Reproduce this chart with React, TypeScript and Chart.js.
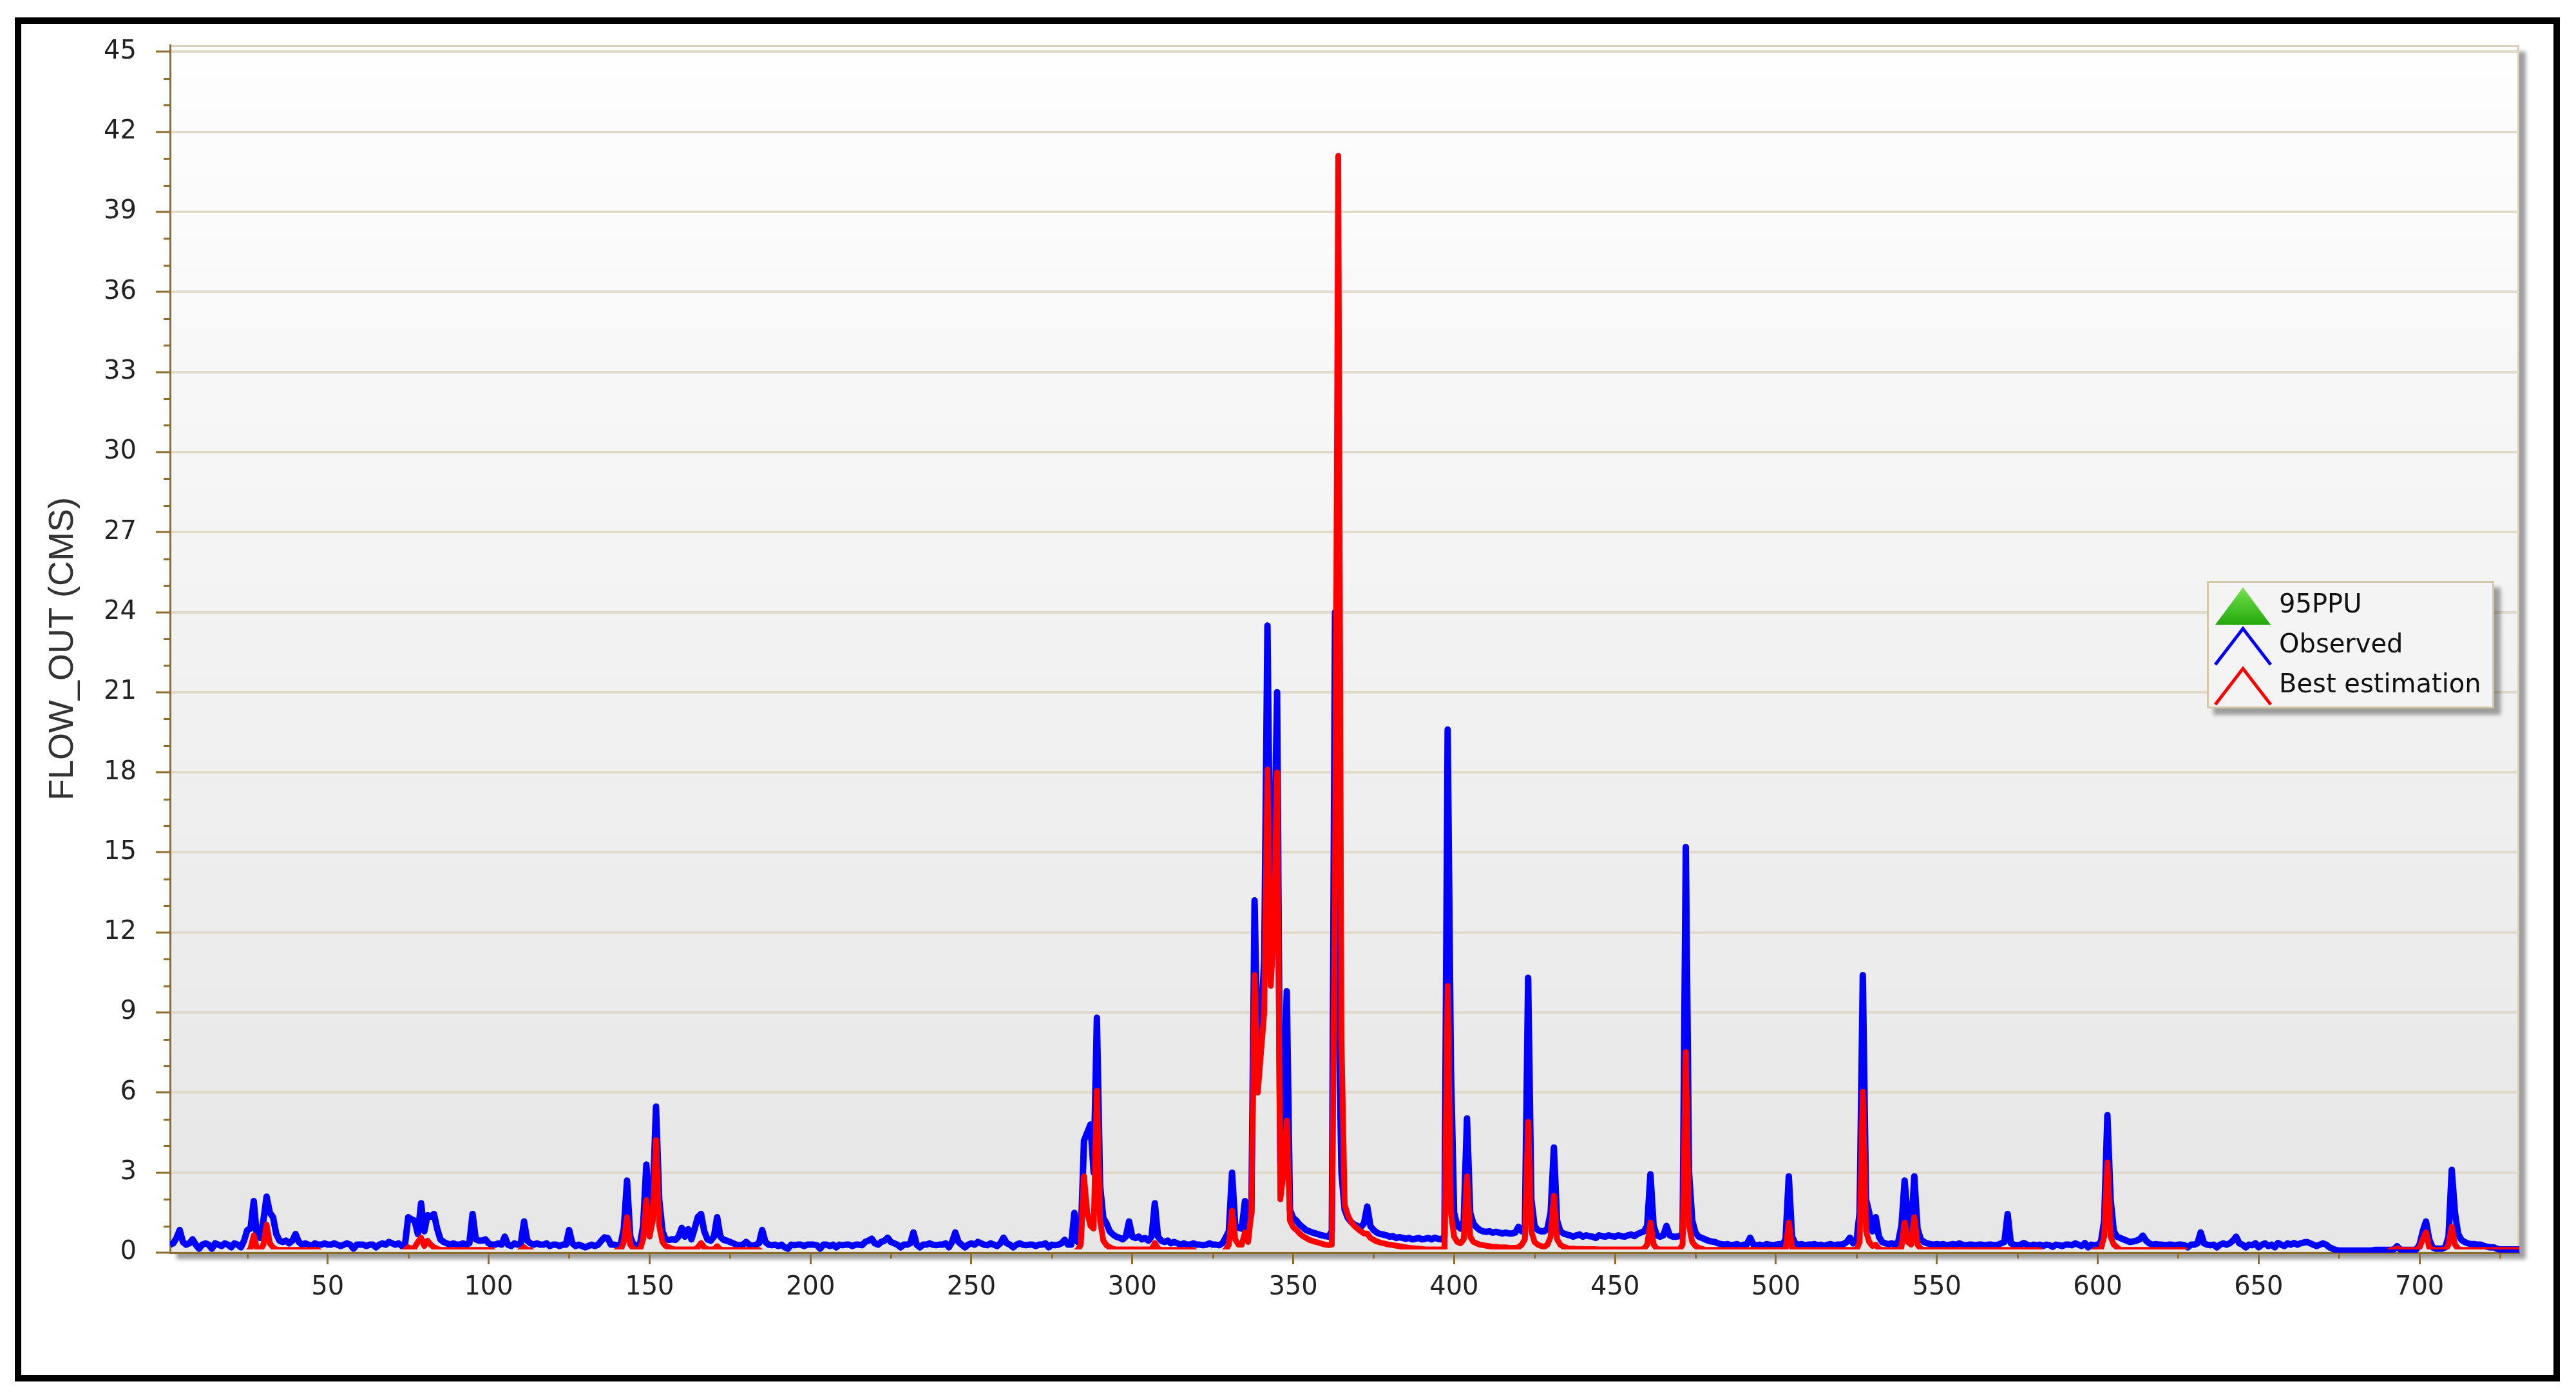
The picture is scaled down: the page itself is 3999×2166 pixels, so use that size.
import React, { useEffect, useRef } from "react";
import { Chart, registerables } from "chart.js";

Chart.register(...registerables);

// ---------- data ----------
const SERIES_LABELS = ["95PPU", "Observed", "Best estimation"];

const X_TICKS = [50, 100, 150, 200, 250, 300, 350, 400, 450, 500, 550, 600, 650, 700];
const X_MINOR_TICKS = [25, 75, 125, 175, 225, 275, 325, 375, 425, 475, 525, 575, 625, 675, 725];
const Y_TICKS = [0, 3, 6, 9, 12, 15, 18, 21, 24, 27, 30, 33, 36, 39, 42, 45];
const Y_MINOR_TICKS = [1, 2, 4, 5, 7, 8, 10, 11, 13, 14, 16, 17, 19, 20, 22, 23, 25, 26, 28, 29, 31, 32, 34, 35, 37, 38, 40, 41, 43, 44];

const FIRST_DAY = 1;

// Observed daily flow (CMS), day 1 .. 731
const OBSERVED = [
  0.3, 0.35, 0.55, 0.85, 0.4, 0.3, 0.35, 0.5, 0.3, 0.15,
  0.3, 0.35, 0.3, 0.15, 0.35, 0.3, 0.25, 0.35, 0.3, 0.2,
  0.35, 0.3, 0.2, 0.45, 0.85, 0.9, 1.93, 0.6, 0.55, 1.2,
  2.1, 1.5, 1.33, 0.7, 0.45, 0.4, 0.45, 0.35, 0.45, 0.7,
  0.4, 0.3, 0.35, 0.3, 0.25, 0.35, 0.3, 0.3, 0.35, 0.3,
  0.3, 0.35, 0.3, 0.25, 0.3, 0.35, 0.3, 0.15, 0.3, 0.3,
  0.3, 0.25, 0.3, 0.3, 0.2, 0.3, 0.35, 0.3, 0.4, 0.35,
  0.3, 0.35, 0.25, 0.3, 1.33, 1.25, 1.2, 0.7, 1.85, 0.8,
  1.4, 1.35, 1.45, 0.9, 0.5, 0.4, 0.35, 0.3, 0.35, 0.3,
  0.3, 0.35, 0.3, 0.35, 1.45, 0.5, 0.45, 0.45, 0.5, 0.35,
  0.3, 0.3, 0.35, 0.3, 0.6, 0.3, 0.25, 0.35, 0.3, 0.35,
  1.17, 0.45, 0.35, 0.3, 0.35, 0.3, 0.3, 0.35, 0.25, 0.3,
  0.3, 0.25, 0.3, 0.3, 0.85, 0.35, 0.25, 0.3, 0.25, 0.2,
  0.25, 0.3, 0.25, 0.3, 0.45, 0.57, 0.55, 0.3, 0.3, 0.28,
  0.28, 0.9, 2.7, 0.6, 0.3, 0.28, 0.3, 1.0, 3.3, 1.5,
  2.0, 5.47, 2.0, 0.8, 0.5, 0.48, 0.5, 0.48, 0.6, 0.93,
  0.6, 0.88, 0.5, 0.9, 1.33, 1.45, 0.8, 0.5, 0.45, 0.6,
  1.33, 0.6, 0.48, 0.45, 0.4, 0.35, 0.3, 0.28, 0.3, 0.4,
  0.3, 0.25, 0.3, 0.35, 0.85, 0.4, 0.3, 0.28, 0.3, 0.25,
  0.3, 0.2, 0.15, 0.3, 0.28, 0.3, 0.3, 0.25, 0.3, 0.3,
  0.3, 0.28, 0.15, 0.3, 0.3, 0.25, 0.3, 0.2, 0.3, 0.28,
  0.3, 0.3, 0.25, 0.3, 0.3, 0.28, 0.4, 0.45, 0.52, 0.35,
  0.3, 0.4, 0.45, 0.56, 0.4, 0.35, 0.3, 0.2, 0.3, 0.3,
  0.35, 0.76, 0.3, 0.2, 0.3, 0.3, 0.35, 0.3, 0.28, 0.3,
  0.3, 0.35, 0.2, 0.4, 0.76, 0.4, 0.3, 0.2, 0.3, 0.35,
  0.3, 0.4, 0.35, 0.3, 0.28, 0.35, 0.3, 0.25, 0.35, 0.56,
  0.35, 0.3, 0.2, 0.3, 0.35, 0.3, 0.28, 0.3, 0.3, 0.25,
  0.3, 0.3, 0.35, 0.2, 0.3, 0.28, 0.3, 0.35, 0.48, 0.3,
  0.3, 1.49, 0.4, 0.6, 4.2, 4.5, 4.8, 3.0, 8.8, 2.5,
  1.3, 1.09, 0.8, 0.68, 0.6, 0.56, 0.5, 0.6, 1.17, 0.6,
  0.55, 0.6, 0.5, 0.55, 0.45, 0.6, 1.85, 0.6, 0.45, 0.4,
  0.45, 0.35, 0.4, 0.35, 0.3, 0.35, 0.3, 0.3, 0.35, 0.3,
  0.3, 0.28, 0.3, 0.35, 0.3, 0.3, 0.28, 0.35, 0.56, 0.8,
  3.0, 1.0, 0.93, 0.9, 1.93, 0.8, 1.5, 13.2, 7.0, 8.5,
  11.0, 23.5, 12.0, 14.0, 21.0, 3.4, 5.0, 9.8, 1.6, 1.3,
  1.2, 1.05, 0.95, 0.85, 0.8, 0.75, 0.72, 0.68, 0.65, 0.62,
  0.6, 0.8, 24.0, 10.0, 3.0, 1.6, 1.3, 1.15, 1.05, 1.0,
  0.95, 1.1, 1.73, 1.0, 0.85, 0.75, 0.7, 0.68, 0.65, 0.6,
  0.62, 0.55, 0.58, 0.55, 0.52, 0.55, 0.5, 0.52, 0.55, 0.5,
  0.52, 0.55, 0.5, 0.56, 0.52, 0.5, 0.6, 19.6, 7.0, 1.5,
  1.0, 0.9, 1.2, 5.03, 1.5, 1.09, 0.95, 0.85, 0.8, 0.78,
  0.8, 0.75, 0.78, 0.75, 0.72, 0.75, 0.72, 0.72, 0.75, 0.97,
  0.8, 1.0, 10.3, 2.0, 1.0, 0.85, 0.8, 0.8, 0.9, 1.5,
  3.94, 1.2, 0.8, 0.72, 0.68, 0.65, 0.6, 0.65, 0.68, 0.6,
  0.65, 0.62, 0.6, 0.55, 0.65, 0.62, 0.6, 0.65, 0.62, 0.6,
  0.65, 0.62, 0.6, 0.65, 0.68, 0.62, 0.7, 0.75, 0.8, 1.0,
  2.94, 1.0, 0.65, 0.6, 0.65, 1.0, 0.65, 0.6, 0.6, 0.62,
  0.7, 15.2, 3.0, 1.2, 0.75, 0.6, 0.55, 0.5, 0.45, 0.42,
  0.4, 0.35, 0.32, 0.3, 0.32, 0.28, 0.3, 0.32, 0.25, 0.3,
  0.32, 0.56, 0.3, 0.28, 0.3, 0.25, 0.32, 0.3, 0.28, 0.3,
  0.32, 0.3, 0.5, 2.86, 0.6, 0.35, 0.3, 0.32, 0.28, 0.3,
  0.3, 0.32, 0.28, 0.3, 0.25, 0.3, 0.32, 0.28, 0.3, 0.3,
  0.32, 0.4, 0.56, 0.35, 0.4, 1.5, 10.4, 2.0, 1.49, 0.8,
  1.33, 0.6, 0.4, 0.35, 0.32, 0.35, 0.3, 0.4, 1.0, 2.7,
  1.2, 0.8, 2.86, 0.9, 0.5, 0.4, 0.35, 0.32, 0.3, 0.32,
  0.3, 0.32, 0.28, 0.3, 0.32, 0.3, 0.35, 0.3, 0.28, 0.3,
  0.3, 0.28, 0.3, 0.3, 0.28, 0.3, 0.3, 0.28, 0.3, 0.35,
  0.4, 1.45, 0.35, 0.3, 0.28, 0.3, 0.36, 0.3, 0.25, 0.3,
  0.28, 0.3, 0.25, 0.3, 0.28, 0.22, 0.3, 0.28, 0.25, 0.3,
  0.3, 0.28, 0.35, 0.3, 0.25, 0.36, 0.2, 0.3, 0.28, 0.3,
  0.4, 1.2, 5.15, 2.0, 0.8, 0.6, 0.55, 0.5, 0.45, 0.4,
  0.42, 0.45, 0.5, 0.64, 0.45, 0.35, 0.3, 0.32, 0.3, 0.3,
  0.28, 0.3, 0.3, 0.28, 0.3, 0.3, 0.28, 0.2, 0.3, 0.3,
  0.35, 0.76, 0.35, 0.3, 0.28, 0.3, 0.2, 0.3, 0.35, 0.3,
  0.35, 0.45, 0.6, 0.35, 0.3, 0.2, 0.3, 0.28, 0.35, 0.2,
  0.3, 0.35, 0.25, 0.3, 0.2, 0.36, 0.3, 0.25, 0.35, 0.3,
  0.36, 0.3, 0.35, 0.38, 0.4, 0.35, 0.3, 0.25, 0.3, 0.35,
  0.3, 0.2, 0.15, 0.1, 0.08, 0.08, 0.08, 0.08, 0.08, 0.08,
  0.08, 0.08, 0.08, 0.08, 0.08, 0.1, 0.1, 0.1, 0.1, 0.1,
  0.1, 0.12, 0.24, 0.12, 0.1, 0.1, 0.1, 0.1, 0.12, 0.3,
  0.8, 1.17, 0.5, 0.2, 0.15, 0.15, 0.15, 0.2, 0.6, 3.1,
  1.5, 0.7, 0.48, 0.4, 0.35, 0.32, 0.32, 0.3, 0.3, 0.25,
  0.22, 0.2, 0.2, 0.15, 0.12, 0.12, 0.12, 0.12, 0.12, 0.12,
  0.12,
];

// Best estimation (simulated) daily flow (CMS), day 1 .. 731
const SIMULATED = [
  0, 0, 0, 0, 0, 0, 0, 0, 0, 0,
  0, 0, 0, 0, 0, 0, 0, 0, 0, 0,
  0, 0, 0, 0, 0, 0.15, 0.65, 0.15, 0.1, 0.3,
  1.05, 0.35, 0.2, 0.12, 0.1, 0.1, 0.1, 0.1, 0.1, 0.1,
  0.1, 0.1, 0.1, 0.1, 0.1, 0.1, 0.1, 0, 0, 0,
  0, 0, 0, 0, 0, 0, 0, 0, 0, 0,
  0, 0, 0, 0, 0, 0, 0, 0, 0, 0,
  0, 0, 0, 0.1, 0.2, 0.15, 0.2, 0.4, 0.56, 0.25,
  0.45, 0.3, 0.2, 0.15, 0.1, 0.1, 0.1, 0.1, 0.1, 0.1,
  0.1, 0.1, 0.1, 0.1, 0.1, 0.1, 0.1, 0.1, 0.1, 0.1,
  0.1, 0, 0, 0, 0, 0, 0, 0, 0, 0.1,
  0.2, 0.1, 0.1, 0, 0, 0, 0, 0, 0, 0,
  0, 0, 0, 0, 0, 0, 0, 0, 0, 0,
  0, 0, 0, 0, 0, 0, 0, 0, 0, 0.1,
  0.1, 0.4, 1.33, 0.3, 0.15, 0.1, 0.1, 0.5, 1.97, 0.6,
  1.2, 4.22, 1.0, 0.4, 0.25, 0.2, 0.15, 0.12, 0.12, 0.12,
  0.12, 0.12, 0.12, 0.12, 0.2, 0.36, 0.2, 0.12, 0.12, 0.12,
  0.24, 0.12, 0.1, 0.1, 0.1, 0.1, 0.1, 0.1, 0.1, 0.1,
  0.1, 0.1, 0.1, 0.1, 0, 0, 0, 0, 0, 0,
  0, 0, 0, 0, 0, 0, 0, 0, 0, 0,
  0, 0, 0, 0, 0, 0, 0, 0, 0, 0,
  0, 0, 0, 0, 0, 0, 0, 0, 0, 0,
  0, 0, 0, 0, 0, 0, 0, 0, 0, 0,
  0, 0, 0, 0, 0, 0, 0, 0, 0, 0,
  0, 0, 0, 0, 0, 0, 0, 0, 0, 0,
  0, 0, 0, 0, 0, 0, 0, 0, 0, 0,
  0, 0, 0, 0, 0, 0, 0, 0, 0, 0,
  0, 0, 0, 0, 0, 0, 0, 0, 0, 0,
  0, 0, 0.1, 0.3, 2.86, 1.5, 1.0, 0.9, 6.07, 1.2,
  0.45, 0.28, 0.2, 0.15, 0.12, 0.12, 0.12, 0.12, 0.12, 0.12,
  0.12, 0.12, 0.12, 0.12, 0.12, 0.12, 0.36, 0.15, 0.1, 0.1,
  0.1, 0.1, 0.1, 0.1, 0.1, 0.1, 0.1, 0.1, 0.1, 0,
  0, 0, 0, 0, 0, 0, 0, 0, 0.1, 0.3,
  1.57, 0.5, 0.3, 0.3, 0.76, 0.4, 1.5, 10.4, 6.0, 7.5,
  9.0, 18.1, 10.0, 12.0, 18.0, 2.0, 3.0, 4.95, 1.2, 0.95,
  0.85, 0.72, 0.62, 0.55, 0.48, 0.44, 0.4, 0.37, 0.33, 0.3,
  0.28, 0.3, 14.0, 41.1, 8.0, 1.8, 1.4, 1.15, 1.0, 0.9,
  0.8, 0.72, 0.72, 0.55, 0.48, 0.42, 0.38, 0.35, 0.32, 0.3,
  0.28, 0.26, 0.24, 0.22, 0.2, 0.18, 0.17, 0.16, 0.15, 0.14,
  0.12, 0.12, 0.12, 0.12, 0.12, 0.12, 0.12, 10.0, 1.5, 0.6,
  0.4, 0.35, 0.5, 2.86, 0.6, 0.4, 0.35, 0.3, 0.28, 0.26,
  0.24, 0.22, 0.22, 0.2, 0.2, 0.2, 0.18, 0.18, 0.18, 0.2,
  0.3, 0.5, 4.9, 0.8, 0.4, 0.3, 0.25, 0.22, 0.3, 0.6,
  2.13, 0.5, 0.3, 0.22, 0.18, 0.15, 0.15, 0.14, 0.14, 0.14,
  0.13, 0.13, 0.13, 0.13, 0.12, 0.12, 0.12, 0.12, 0.12, 0.12,
  0.12, 0.12, 0.12, 0.12, 0.12, 0.12, 0.12, 0.12, 0.15, 0.3,
  1.13, 0.3, 0.15, 0.12, 0.12, 0.12, 0.12, 0.12, 0.12, 0.12,
  0.3, 7.52, 1.0, 0.4, 0.25, 0.18, 0.15, 0.1, 0.1, 0.1,
  0.1, 0.1, 0.1, 0.1, 0.1, 0.1, 0.1, 0.1, 0.1, 0.1,
  0.1, 0.1, 0.1, 0.1, 0.1, 0.1, 0.1, 0.1, 0.1, 0.1,
  0.1, 0.1, 0.1, 1.13, 0.2, 0.1, 0.1, 0.1, 0.1, 0.1,
  0.1, 0.1, 0.1, 0.1, 0.1, 0.1, 0.1, 0.1, 0.1, 0.1,
  0.1, 0.1, 0.1, 0.1, 0.1, 0.4, 6.03, 0.8, 0.4, 0.25,
  0.3, 0.15, 0.1, 0.1, 0.1, 0.1, 0.1, 0.1, 0.2, 1.13,
  0.4, 0.3, 1.33, 0.3, 0.15, 0.1, 0.1, 0.1, 0.1, 0.1,
  0.1, 0.1, 0.1, 0.1, 0.1, 0.1, 0.1, 0.1, 0.1, 0.1,
  0.1, 0.1, 0.1, 0.1, 0.1, 0.1, 0.1, 0.1, 0.1, 0.1,
  0.1, 0.1, 0.1, 0.1, 0.1, 0.1, 0.1, 0.1, 0.1, 0.1,
  0.1, 0.1, 0, 0, 0, 0, 0, 0, 0, 0,
  0, 0, 0, 0, 0, 0, 0, 0, 0.1, 0.1,
  0.15, 0.6, 3.38, 0.6, 0.3, 0.2, 0.1, 0.1, 0.1, 0.1,
  0.1, 0.1, 0.1, 0.1, 0.1, 0.1, 0.1, 0.1, 0.1, 0.1,
  0.1, 0.1, 0.1, 0.1, 0.1, 0.1, 0.1, 0, 0, 0,
  0, 0, 0, 0, 0, 0, 0, 0, 0, 0,
  0, 0, 0, 0, 0, 0, 0, 0, 0, 0,
  0, 0, 0, 0, 0, 0, 0, 0, 0, 0,
  0, 0, 0, 0, 0, 0, 0, 0, 0, 0,
  0, 0, 0, 0, 0, 0, 0, 0, 0, 0,
  0, 0, 0, 0, 0, 0, 0, 0, 0, 0,
  0.1, 0.1, 0.16, 0.1, 0.1, 0.1, 0.1, 0.1, 0.1, 0.2,
  0.5, 0.76, 0.2, 0.1, 0.1, 0.1, 0.1, 0.1, 0.3, 0.97,
  0.3, 0.15, 0.1, 0.1, 0.1, 0.1, 0.1, 0.1, 0.1, 0.1,
  0.1, 0.1, 0.1, 0.1, 0.1, 0.1, 0.1, 0.1, 0.1, 0.1,
  0.1,
];

// 95PPU band is not drawn in this figure (legend entry only)
const PPU95: { x: number; y: number }[] = [];

// ---------- styling ----------
const W = 3999;
const H = 2166;
const AXIS_BROWN = "#8d6c2c";
const GRID_BEIGE = "#e1dacb";
const BLUE = "#0000ff";
const RED = "#ff0000";
const GREEN = "#33c21a";
const TICK_FONT = { family: '"DejaVu Sans", Verdana, sans-serif', size: 40 };

const toPoints = (arr: number[]) => arr.map((y, i) => ({ x: FIRST_DAY + i, y }));

const framePlugin = {
  id: "frameAndBackground",
  beforeDraw(chart: any) {
    const { ctx, chartArea: a, width, height } = chart;
    ctx.save();
    ctx.fillStyle = "#ffffff";
    ctx.fillRect(0, 0, width, height);
    // outer black frame
    ctx.strokeStyle = "#000000";
    ctx.lineWidth = 10;
    ctx.strokeRect(28, 32, width - 58, height - 58);
    // plot area with drop shadow and gradient
    ctx.save();
    ctx.shadowColor = "rgba(0,0,0,0.38)";
    ctx.shadowOffsetX = 10;
    ctx.shadowOffsetY = 10;
    ctx.shadowBlur = 6;
    const g = ctx.createLinearGradient(0, a.top, 0, a.bottom);
    g.addColorStop(0, "#fefefe");
    g.addColorStop(1, "#e6e6e6");
    ctx.fillStyle = g;
    ctx.fillRect(a.left, a.top, a.right - a.left, a.bottom - a.top);
    ctx.restore();
    ctx.strokeStyle = "#dbd1bb";
    ctx.lineWidth = 3;
    ctx.beginPath();
    ctx.moveTo(a.left, a.top + 1.5);
    ctx.lineTo(a.right - 1.5, a.top + 1.5);
    ctx.lineTo(a.right - 1.5, a.bottom);
    ctx.stroke();
    ctx.restore();
  },
  afterDraw(chart: any) {
    const { ctx, chartArea: a } = chart;
    const xs = chart.scales.x;
    const ys = chart.scales.y;
    ctx.save();
    // minor ticks
    ctx.strokeStyle = AXIS_BROWN;
    ctx.lineWidth = 3;
    ctx.beginPath();
    for (const v of Y_MINOR_TICKS) {
      const y = Math.round(ys.getPixelForValue(v)) + 0.5;
      ctx.moveTo(a.left - 10, y);
      ctx.lineTo(a.left, y);
    }
    for (const v of X_MINOR_TICKS) {
      const x = Math.round(xs.getPixelForValue(v)) + 0.5;
      ctx.moveTo(x, a.bottom);
      ctx.lineTo(x, a.bottom + 9);
    }
    ctx.stroke();

    // legend
    const bx = a.right - 485;
    const by = a.top + 832;
    const bw = 446;
    const bh = 198;
    ctx.save();
    ctx.shadowColor = "rgba(0,0,0,0.35)";
    ctx.shadowOffsetX = 10;
    ctx.shadowOffsetY = 10;
    ctx.shadowBlur = 6;
    ctx.fillStyle = "#f4f4f4";
    ctx.fillRect(bx, by, bw, bh);
    ctx.restore();
    ctx.strokeStyle = "#d6c8a6";
    ctx.lineWidth = 3;
    ctx.strokeRect(bx + 1.5, by + 1.5, bw - 3, bh - 3);

    const datasets = chart.data.datasets;
    ctx.font = '40px "DejaVu Sans", Verdana, sans-serif';
    ctx.textBaseline = "middle";
    ctx.textAlign = "left";
    datasets.forEach((ds: any, i: number) => {
      const cy = by + 38 + i * 62;
      const mx = bx + 56;
      if (i === 0) {
        const tg = ctx.createLinearGradient(0, cy - 28, 0, cy + 30);
        tg.addColorStop(0, "#74e24e");
        tg.addColorStop(1, "#23a80c");
        ctx.fillStyle = tg;
        ctx.beginPath();
        ctx.moveTo(mx, cy - 28);
        ctx.lineTo(mx + 43, cy + 30);
        ctx.lineTo(mx - 43, cy + 30);
        ctx.closePath();
        ctx.fill();
      } else {
        ctx.strokeStyle = ds.borderColor;
        ctx.lineWidth = 5;
        ctx.lineJoin = "miter";
        ctx.beginPath();
        ctx.moveTo(mx - 43, cy + 30);
        ctx.lineTo(mx, cy - 26);
        ctx.lineTo(mx + 43, cy + 30);
        ctx.stroke();
      }
      ctx.fillStyle = "#111111";
      ctx.fillText(ds.label, bx + 112, cy + 1);
    });
    ctx.restore();
  },
};

export default function App() {
  const canvasRef = useRef<HTMLCanvasElement | null>(null);

  useEffect(() => {
    const canvas = canvasRef.current;
    if (!canvas) return;
    const chart = new Chart(canvas, {
      type: "line",
      data: {
        datasets: [
          {
            label: SERIES_LABELS[0],
            data: PPU95,
            borderColor: GREEN,
            backgroundColor: GREEN,
            fill: true,
            pointRadius: 0,
            order: 2,
          },
          {
            label: SERIES_LABELS[1],
            data: toPoints(OBSERVED),
            borderColor: BLUE,
            backgroundColor: BLUE,
            borderWidth: 10,
            pointRadius: 0,
            tension: 0,
            borderJoinStyle: "round",
            order: 1,
          },
          {
            label: SERIES_LABELS[2],
            data: toPoints(SIMULATED),
            borderColor: RED,
            backgroundColor: RED,
            borderWidth: 9,
            pointRadius: 0,
            tension: 0,
            borderJoinStyle: "round",
            order: 0,
            clip: { left: 0, top: 0, right: 0, bottom: -5 },
          },
        ],
      },
      options: {
        responsive: false,
        maintainAspectRatio: false,
        devicePixelRatio: 1,
        animation: false,
        events: [],
        layout: { padding: { left: 0, top: 70, right: 88, bottom: 0 } },
        plugins: {
          legend: { display: false },
          tooltip: { enabled: false },
          title: { display: false },
        },
        scales: {
          x: {
            type: "linear",
            min: 1,
            max: 731,
            afterBuildTicks: (scale: any) => {
              scale.ticks = X_TICKS.map((v) => ({ value: v }));
            },
            afterFit: (scale: any) => {
              scale.height = 221;
            },
            grid: {
              drawOnChartArea: false,
              drawTicks: true,
              tickLength: 18,
              tickColor: AXIS_BROWN,
              tickWidth: 3,
            },
            border: { display: true, color: AXIS_BROWN, width: 3 },
            ticks: {
              autoSkip: false,
              maxRotation: 0,
              padding: 13,
              color: "#222222",
              font: TICK_FONT,
              callback: (v: any) => String(v),
            },
          },
          y: {
            type: "linear",
            min: 0,
            max: 45.25,
            afterBuildTicks: (scale: any) => {
              scale.ticks = Y_TICKS.map((v) => ({ value: v }));
            },
            afterFit: (scale: any) => {
              scale.width = 264;
            },
            grid: {
              color: GRID_BEIGE,
              lineWidth: 4,
              drawTicks: true,
              tickLength: 22,
              tickColor: AXIS_BROWN,
              tickWidth: 3,
            },
            border: { display: true, color: AXIS_BROWN, width: 3 },
            ticks: {
              autoSkip: false,
              padding: 30,
              color: "#222222",
              font: TICK_FONT,
              callback: (v: any) => String(v),
            },
            title: {
              display: true,
              text: "FLOW_OUT (CMS)",
              color: "#333333",
              font: { family: '"Liberation Sans", Arial, sans-serif', size: 54 },
              padding: { top: 66, bottom: 0 },
            },
          },
        },
      },
      plugins: [framePlugin],
    });
    return () => chart.destroy();
  }, []);

  return (
    <div style={{ position: "absolute", left: 0, top: 0, width: W, height: H, background: "#ffffff", overflow: "hidden" }}>
      <canvas ref={canvasRef} width={W} height={H} style={{ display: "block", width: W, height: H }} />
    </div>
  );
}
